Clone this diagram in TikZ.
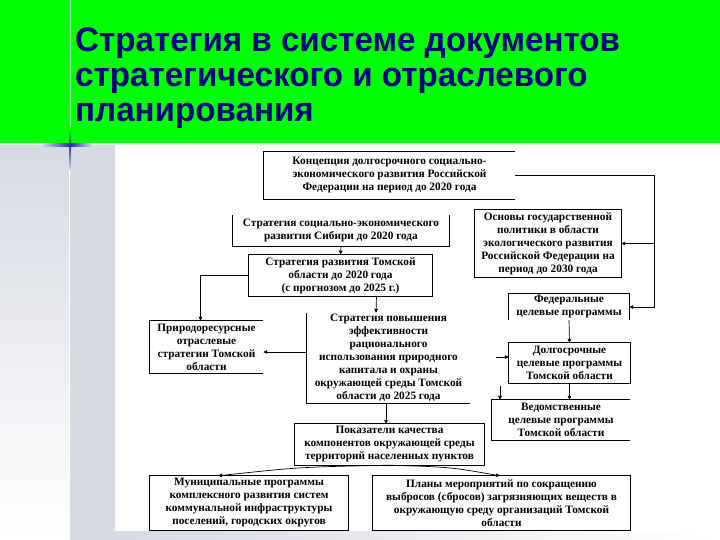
\documentclass[tikz,border=0pt]{standalone}
\usepackage{fontspec}
\setmainfont{Liberation Serif}
\newfontfamily\titlefont{Liberation Sans}
\usetikzlibrary{arrows.meta}
\definecolor{banner}{HTML}{00FF00}
\definecolor{navy}{HTML}{000080}
\definecolor{strip}{HTML}{D6DAE3}
\definecolor{crossblue}{HTML}{2233AA}
\definecolor{vline}{HTML}{A8CFC0}
\newcommand{\ttl}[1]{\scalebox{0.975}[1]{#1}}
\begin{document}
\begin{tikzpicture}[x=1pt,y=-1pt,
  box/.style={rectangle, inner sep=0pt, align=center, font=\fontsize{11.3}{13}\selectfont\bfseries},
  border/.style={line width=0.8pt, draw=black},
  conn/.style={line width=0.7pt, -{Triangle[length=4pt,width=3.6pt]}},
  titletext/.style={anchor=base west, inner sep=0pt, text=navy, font=\titlefont\bfseries\fontsize{34}{36}\selectfont}
]
\useasboundingbox (0,0) rectangle (720,540);
% background
\fill[white] (0,0) rectangle (720,540);
\shade[top color=strip, bottom color=white] (0,143) rectangle (69,540);
\fill[strip] (70,143) rectangle (115,540);
\shade[left color=strip, right color=white] (115,531) rectangle (720,540);
\draw[white, line width=1.2pt] (69.5,143) -- (69.5,540);
\fill[banner] (0,0) rectangle (720,143);
\fill[white!85!banner] (0,143) rectangle (720,145);
\draw[vline, line width=0.8pt] (70,0) -- (70,143);
\shade[left color=strip, right color=crossblue] (42,144) rectangle (70,146.5);
\shade[left color=crossblue, right color=strip] (70,144) rectangle (92,146.5);
\shade[top color=crossblue, bottom color=strip] (69,145) rectangle (71.2,170);
\shade[top color=banner, bottom color=crossblue] (69,128) rectangle (71.2,145);
% title
\node[titletext] (t1) at (75,52) {\ttl{Стратегия в системе документов}};
\node[titletext] (t2) at (75,87) {\ttl{стратегического и отраслевого}};
\node[titletext] (t3) at (75,122) {\ttl{планирования}};
% boxes
\node[box, minimum width=251pt, minimum height=47pt] (A) at (389.5,175.5) {Концепция долгосрочного социально-\\экономического развития Российской\\Федерации на период до 2020 года};
\node[box, minimum width=216pt, minimum height=31pt] (B) at (341,230.5) {Стратегия социально-экономического\\развития Сибири до 2020 года};
\node[box, minimum width=146pt, minimum height=67pt] (C) at (548,243.5) {Основы государственной\\политики в области\\экологического развития\\Российской Федерации на\\период до 2030 года};
\node[box, minimum width=183pt, minimum height=41pt] (D) at (340.5,275.5) {Стратегия развития Томской\\области до 2020 года\\(с прогнозом до 2025 г.)};
\node[box, minimum width=120pt, minimum height=26pt] (E) at (569,307) {Федеральные\\целевые программы};
\node[box, minimum width=121pt, minimum height=40pt] (F) at (569.5,363) {Долгосрочные\\целевые программы\\Томской области};
\node[box, minimum width=138pt, minimum height=40pt] (G) at (561,420) {Ведомственные\\целевые программы\\Томской области};
\node[box, minimum width=163pt, minimum height=90pt] (H) at (388.5,358) {Стратегия повышения\\эффективности\\рационального\\использования природного\\капитала и охраны\\окружающей среды Томской\\области до 2025 года};
\node[box, minimum width=113pt, minimum height=52pt] (I) at (206.5,347) {Природоресурсные\\отраслевые\\стратегии Томской\\области};
\node[box, minimum width=189pt, minimum height=41pt] (J) at (389.5,444.5) {Показатели качества\\компонентов окружающей среды\\территорий населенных пунктов};
\node[box, minimum width=198pt, minimum height=54pt] (K) at (249,503) {Муниципальные программы\\комплексного развития систем\\коммунальной инфраструктуры\\поселений, городских округов};
\node[box, minimum width=257pt, minimum height=54pt] (L) at (501.5,503) {Планы мероприятий по сокращению\\выбросов (сбросов) загрязняющих веществ в\\окружающую среду организаций Томской\\области};
% borders (as printed)
\draw[border] (A.north east) -- (A.north west) -- (A.south west) -- (A.south east);
\draw[border] (B.north west) -- (B.south west) -- (B.south east) -- (B.north east);
\draw[border] (C.north west) rectangle (C.south east);
\draw[border] (D.north west) rectangle (D.south east);
\draw[border] (E.south west) -- (E.north west) -- (E.north east) -- (E.south east);
\draw[border] (F.north west) rectangle (F.south east);
\draw[border] (G.north east) -- (G.north west) -- (G.south west) -- (G.south east);
\draw[border] (H.north west) -- (H.south west) -- (H.south east);
\draw[border] (I.north east) -- (I.north west) -- (I.south west) -- (I.south east);
\draw[border] (J.north west) rectangle (J.south east);
\draw[border] (K.north west) rectangle (K.south east);
\draw[border] (L.north west) rectangle (L.south east);
% connectors
\coordinate (bus) at (654,0);
\draw[conn] (A.east) -| (bus |- E.east) -- (E.east);
\draw[conn] (bus |- C.east) -- (C.east);
\draw[conn] (B.south) -- (D.north);
\draw[conn] ([xshift=36pt]D.south) -- ([xshift=-12.5pt]H.north);
\draw[conn] (D.west) -| ([xshift=-6pt]I.north);
\draw[conn] (H.west |- 0,352) -- (I.east |- 0,352);
\draw[conn] (E.south) -- (F.north);
\draw[conn] (F.south) -- (G.north -| F.south);
\coordinate (g0) at (500,386);
\draw[conn] (g0) -- (G.north -| g0);
\coordinate (f0) at (496,357);
\draw[conn] (f0) -- (F.west |- f0);
\draw[conn] (H.south -| 386,0) -- (J.north -| 386,0);
\draw[conn] (J.south) .. controls (300,467) .. ([xshift=-31pt]K.north);
\draw[conn] (J.south) .. controls (450,467) .. ([xshift=-1.5pt]L.north);
\end{tikzpicture}
\end{document}
